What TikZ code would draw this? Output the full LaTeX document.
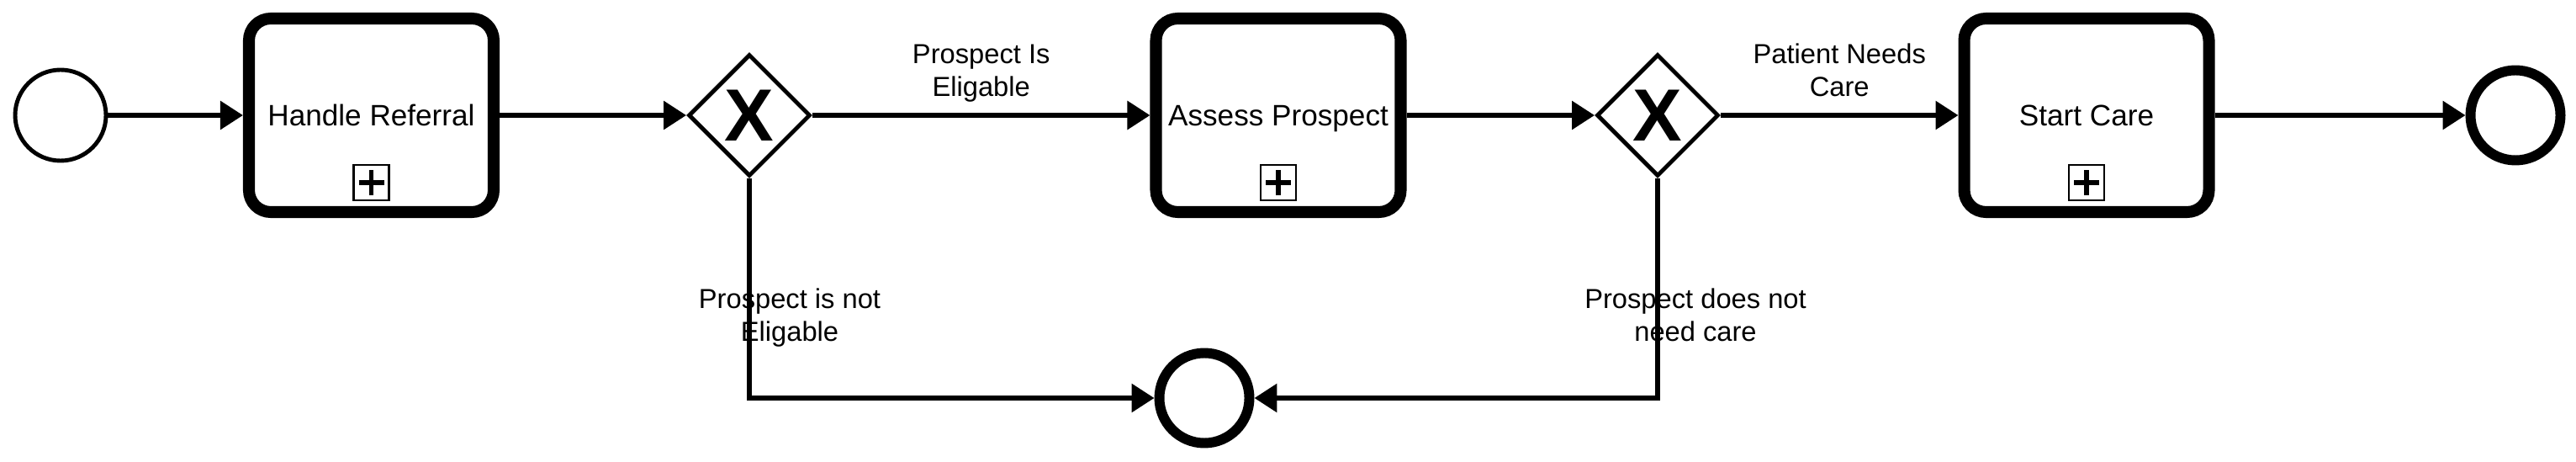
\documentclass[tikz,border=0pt]{standalone}
\usepackage{fontspec}
\setmainfont{Liberation Sans}
\usetikzlibrary{positioning,calc,arrows.meta,shapes.geometric}
\newcommand\lblfont{\fontsize{10}{12.5}\selectfont}
\newcommand\flowfont{\fontsize{9.3}{11.1}\selectfont}
\tikzset{
  flow/.style    = {line width=1.7pt, -{Triangle[length=2.7mm, width=3.3mm]}},
  sevent/.style  = {circle, draw, line width=1.4pt, minimum size=10.8mm, inner sep=0pt},
  eevent/.style  = {circle, draw, line width=3.4pt, minimum size=10.7mm, inner sep=0pt},
  task/.style    = {draw, line width=4pt, rounded corners=2.6mm, minimum width=29.1mm,
                    minimum height=23mm, inner sep=2pt, text height=0.72em,
                    text depth=0pt, font=\lblfont},
  xgate/.style   = {diamond, draw, line width=1.4pt, minimum width=14.5mm,
                    minimum height=14.5mm, inner sep=0pt,
                    font=\fontsize{25}{25}\selectfont\bfseries},
  subbox/.style  = {draw, line width=0.6pt, minimum size=4.2mm, inner sep=0pt,
                    path picture={\draw[line width=1.5pt]
                      ($(path picture bounding box.center)+(-1.5mm,0)$) -- ++(3mm,0)
                      ($(path picture bounding box.center)+(0,-1.5mm)$) -- ++(0,3mm);}},
  lbl/.style     = {font=\flowfont, align=center, inner sep=0pt, text depth=0pt},
}

\begin{document}
\begin{tikzpicture}
  \useasboundingbox (0,0) rectangle (30.63,-5.49);
  \node[sevent] (start) at (0.72,-1.37) {};
  \node[task] (hr) at (4.415,-1.37) {Handle Referral};
  \node[subbox] (hrm) at ($(hr.south)+(0,0.42)$) {};
  \node[xgate] (g1) at (8.91,-1.37) {X};
  \node[task] (ap) at (15.2,-1.37) {Assess Prospect};
  \node[subbox] (apm) at ($(ap.south)+(0,0.42)$) {};
  \node[xgate] (g2) at (19.71,-1.37) {X};
  \node[task] (sc) at (24.81,-1.37) {Start Care};
  \node[subbox] (scm) at ($(sc.south)+(0,0.42)$) {};
  \node[eevent] (endA) at (29.91,-1.37) {};
  \node[eevent] (endB) at (14.32,-4.73) {};

  \draw[flow] (start) -- (hr);
  \draw[flow] (hr) -- (g1);
  \draw[flow] (g1) -- node[lbl, yshift=5.35mm] {Prospect Is\\Eligable} (ap);
  \draw[flow] (ap) -- (g2);
  \draw[flow] (g2) -- node[lbl, yshift=5.35mm] {Patient Needs\\Care} (sc);
  \draw[flow] (sc) -- (endA);
  \draw[flow] (g1.south) |- node[lbl, pos=0.31, xshift=4.8mm] {Prospect is not\\Eligable} (endB);
  \draw[flow] (g2.south) |- node[lbl, pos=0.31, xshift=4.5mm] {Prospect does not\\need care} (endB);
\end{tikzpicture}
\end{document}
